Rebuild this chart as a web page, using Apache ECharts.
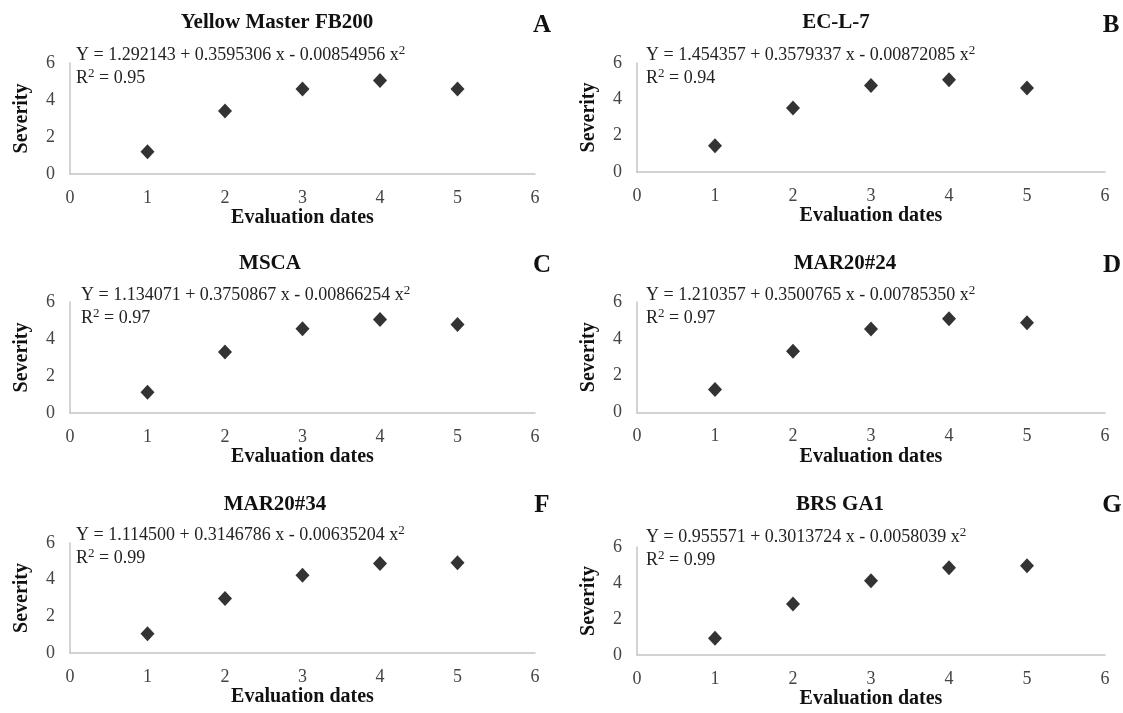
<!DOCTYPE html>
<html>
<head>
<meta charset="utf-8">
<script src="https://cdn.jsdelivr.net/npm/echarts@6/dist/echarts.min.js"></script>
<style>
html,body{margin:0;padding:0;background:#fff;}
#chart{width:1123px;height:713px;}
</style>
</head>
<body>
<div id="chart"></div>
<script>
// ---- data ----
const xValues = [1, 2, 3, 4, 5];
const severityA = [1.2, 3.4, 4.6, 5.05, 4.6];
const severityB = [1.45, 3.52, 4.76, 5.08, 4.62];
const severityC = [1.12, 3.3, 4.56, 5.05, 4.78];
const severityD = [1.25, 3.32, 4.53, 5.09, 4.88];
const severityF = [1.05, 2.97, 4.24, 4.88, 4.92];
const severityG = [0.93, 2.83, 4.12, 4.85, 4.96];
const panelTitles = ['Yellow Master FB200', 'EC-L-7', 'MSCA', 'MAR20#24', 'MAR20#34', 'BRS GA1'];
const panelLetters = ['A', 'B', 'C', 'D', 'F', 'G'];
const equationTexts = [
  'Y = 1.292143 + 0.3595306 x - 0.00854956 x',
  'Y = 1.454357 + 0.3579337 x - 0.00872085 x',
  'Y = 1.134071 + 0.3750867 x - 0.00866254 x',
  'Y = 1.210357 + 0.3500765 x - 0.00785350 x',
  'Y = 1.114500 + 0.3146786 x - 0.00635204 x',
  'Y = 0.955571 + 0.3013724 x - 0.0058039 x'
];
const r2Values = ['0.95', '0.94', '0.97', '0.97', '0.99', '0.99'];
const xAxisName = 'Evaluation dates';
const yAxisName = 'Severity';
const xMin = 0, xMax = 6, xStep = 1;
const yMin = 0, yMax = 6, yStep = 2;
const allSeverity = [severityA, severityB, severityC, severityD, severityF, severityG];

// ---- layout ----
const grids = [
  {left: 70, top: 63, width: 465, height: 111},
  {left: 637, top: 63, width: 468, height: 109},
  {left: 70, top: 302, width: 465, height: 111},
  {left: 637, top: 302, width: 468, height: 110.5},
  {left: 70, top: 543, width: 465, height: 110},
  {left: 637, top: 547, width: 468, height: 108}
];
const titlePos = [[277, 23], [836, 23], [270, 264], [845, 264], [275, 505], [840, 505]];
const letterPos = [[542, 26], [1111, 26], [542, 266], [1112, 266], [542, 506], [1112, 506]];
const eqPos = [[76, 44], [646, 44], [81, 284], [646, 284], [76, 524], [646, 526]];

const FONT = 'Liberation Serif';
const titles = [];
const xAxes = [], yAxes = [], series = [];

grids.forEach((g, i) => {
  titles.push({
    text: panelTitles[i], left: titlePos[i][0], top: titlePos[i][1],
    textAlign: 'center', textVerticalAlign: 'middle', padding: 0,
    textStyle: {fontFamily: FONT, fontSize: 21, fontWeight: 'bold', color: '#111'}
  });
  titles.push({
    text: panelLetters[i], left: letterPos[i][0], top: letterPos[i][1],
    textAlign: 'center', textVerticalAlign: 'middle', padding: 0,
    textStyle: {fontFamily: FONT, fontSize: 25, fontWeight: 'bold', color: '#111'}
  });
  titles.push({
    text: equationTexts[i] + '{sup|2}\nR{sup|2} = ' + r2Values[i],
    left: eqPos[i][0], top: eqPos[i][1], padding: 0,
    textAlign: 'left', textVerticalAlign: 'top',
    textStyle: {
      fontFamily: FONT, fontSize: 18, fontWeight: 'normal', color: '#222', lineHeight: 23,
      rich: {sup: {fontFamily: FONT, fontSize: 13, lineHeight: 14, verticalAlign: 'top', color: '#222'}}
    }
  });
  xAxes.push({
    type: 'value', gridIndex: i, min: xMin, max: xMax, interval: xStep,
    name: xAxisName, nameLocation: 'middle', nameGap: 29,
    nameTextStyle: {fontFamily: FONT, fontSize: 20, fontWeight: 'bold', color: '#111'},
    axisLine: {show: true, onZero: false, lineStyle: {color: '#c4c4c4', width: 1.5}},
    axisTick: {show: false},
    splitLine: {show: false},
    axisLabel: {fontFamily: FONT, fontSize: 18, color: '#444', margin: 15}
  });
  yAxes.push({
    type: 'value', gridIndex: i, min: yMin, max: yMax, interval: yStep,
    name: yAxisName, nameLocation: 'middle', nameGap: 38,
    nameTextStyle: {fontFamily: FONT, fontSize: 20, fontWeight: 'bold', color: '#111'},
    axisLine: {show: true, onZero: false, lineStyle: {color: '#c4c4c4', width: 1.5}},
    axisTick: {show: false},
    splitLine: {show: false},
    axisLabel: {fontFamily: FONT, fontSize: 18, color: '#444', margin: 15}
  });
  series.push({
    type: 'scatter', xAxisIndex: i, yAxisIndex: i,
    symbol: 'diamond', symbolSize: [14, 15],
    itemStyle: {color: '#000'},
    data: xValues.map((x, k) => [x, allSeverity[i][k]])
  });
});

const chart = echarts.init(document.getElementById('chart'), null, {renderer: 'canvas'});
chart.setOption({
  backgroundColor: '#fff',
  animation: false,
  title: titles,
  grid: grids,
  xAxis: xAxes,
  yAxis: yAxes,
  series: series
});
</script>
</body>
</html>
